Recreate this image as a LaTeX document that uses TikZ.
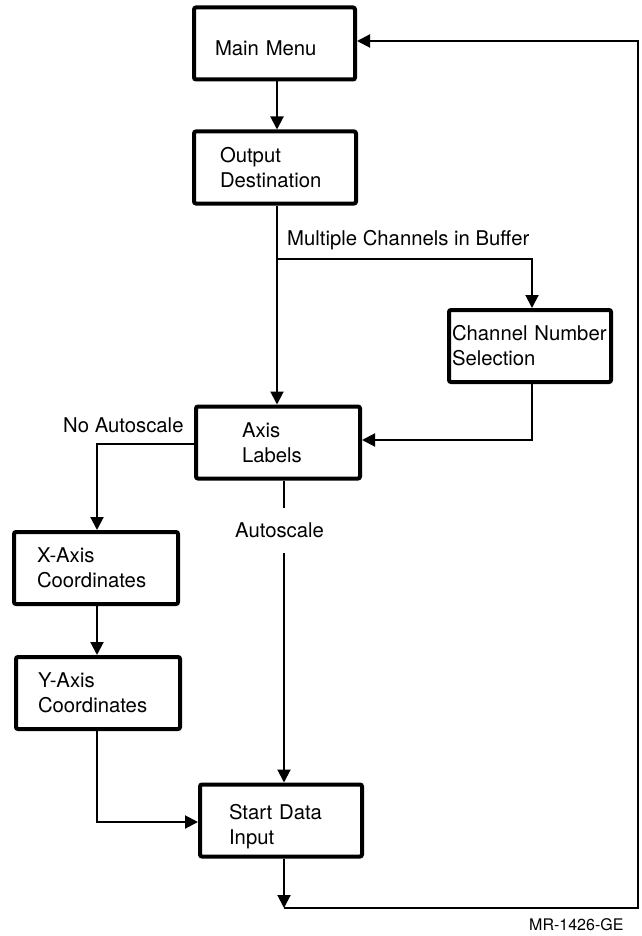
\documentclass[tikz,border=0pt]{standalone}
\usepackage{fontspec}
\setmainfont{TeX Gyre Heros}
\usetikzlibrary{arrows.meta}
\newcommand\mainfs{\fontsize{20.3pt}{25pt}\selectfont}
\newcommand\smallfs{\fontsize{16pt}{19pt}\selectfont}
\begin{document}
\begin{tikzpicture}[x=1pt,y=-1pt,
  box/.style={draw, line width=4pt, rounded corners=2pt, minimum height=72pt,
    minimum width=162pt, align=left, inner ysep=0pt, font=\mainfs},
  conn/.style={line width=2pt},
  arr/.style={conn, -{Triangle[length=13pt,width=13pt]}},
  lbl/.style={inner sep=0pt, anchor=base west, font=\mainfs}]
\useasboundingbox (0,0) rectangle (641,936);

% boxes
\node[box, minimum width=161pt, inner xsep=21pt, text width=119pt] (mm) at (274.5,43.5)
  {\rule{0pt}{25pt}Main Menu};
\node[box, inner xsep=26pt, text width=110pt] (od) at (275,167.5)
  {Output\\Destination};
\node[box, inner xsep=3pt, text width=156pt] (cn) at (530,346)
  {Channel Number\\Selection};
\node[box, minimum width=164pt, inner xsep=46pt, text width=72pt] (al) at (278,442.5)
  {Axis\\Labels};
\node[box, minimum width=164pt, inner xsep=23pt, text width=118pt] (xa) at (96,568)
  {X-Axis\\Coordinates};
\node[box, minimum width=164pt, inner xsep=22pt, text width=120pt] (ya) at (98,693)
  {Y-Axis\\Coordinates};
\node[box, inner xsep=29pt, text width=104pt] (sd) at (281,820.5)
  {\rule{0pt}{28pt}Start Data\\Input};

% labels
\node[lbl] (lmc) at (287,245) {Multiple Channels in Buffer};
\node[lbl] (lna) at (63,432) {No Autoscale};
\node[lbl] (las) at (235,537) {Autoscale};
\node[inner sep=0pt, anchor=base west, font=\smallfs] (mr) at (529,930) {MR-1426-GE};

% helper coordinates
\coordinate (vA) at (277,0);
\coordinate (vB) at (532,0);
\coordinate (vC) at (97,0);
\coordinate (vD) at (284,0);
\coordinate (br) at (277,259);
\coordinate (h1) at (0,440);
\coordinate (h2) at (0,444);
\coordinate (h3) at (0,822);
\coordinate (a1) at (284,508);
\coordinate (a2) at (284,553);
\coordinate (bot) at (284,908);
\coordinate (rb) at (638,908);
\coordinate (rt) at (638,41);

% connectors
\draw[arr] (mm.south -| vA) -- (od.north -| vA);
\draw[arr] (od.south -| vA) -- (al.north -| vA);
\draw[arr] (br) -| (cn.north -| vB);
\draw[arr] (cn.south -| vB) |- (al.east |- h1);
\draw[arr] (al.west |- h2) -| (xa.north -| vC);
\draw[arr] (xa.south -| vC) -- (ya.north -| vC);
\draw[conn] (al.south -| vD) -- (a1);
\draw[arr] (a2) -- (sd.north -| vD);
\draw[arr] (ya.south -| vC) |- (sd.west |- h3);
\draw[arr] (sd.south -| vD) -- (bot);
\draw[arr] (bot) -- (rb) -- (rt) -- (mm.east |- rt);
\end{tikzpicture}
\end{document}
